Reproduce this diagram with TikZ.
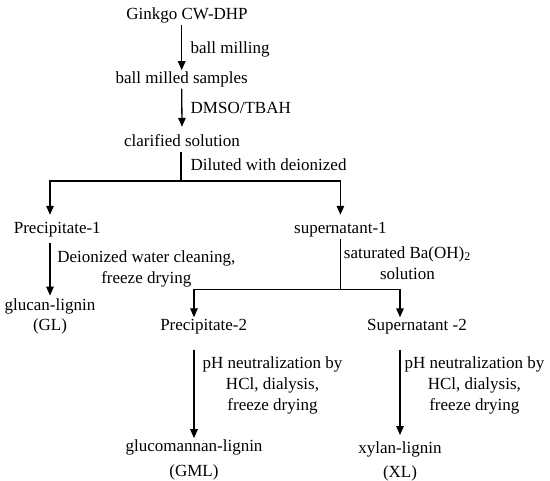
\documentclass[tikz,border=0pt]{standalone}
\usepackage{fontspec}
\setmainfont{Liberation Serif}
\usetikzlibrary{arrows.meta}
\begin{document}
\begin{tikzpicture}[
    x=1pt, y=-1pt,
    stage/.style={inner sep=1pt, text height=12pt, text depth=4pt, font=\fontsize{17}{21}\selectfont},
    product/.style={inner sep=1pt, align=center, font=\fontsize{17}{25}\selectfont},
    note/.style={inner sep=0pt, align=center, font=\fontsize{17}{21}\selectfont},
    flow/.style={line width=1.3pt, -{Triangle[length=9pt,width=7.5pt]}},
    link/.style={line width=1.3pt}
]
\useasboundingbox (0,0) rectangle (550,481);
\node[stage] (ginkgo) at (187,15.7) {Ginkgo CW-DHP};
\node[stage] (milled) at (181.7,79.4) {ball milled samples};
\node[stage] (clar) at (182,143) {clarified solution};
\node[stage] (prec1) at (57.3,230) {Precipitate-1};
\node[stage] (super1) at (340.4,230) {supernatant-1};
\node[stage] (prec2) at (203.7,326.5) {Precipitate-2};
\node[stage] (sup2) at (417,326.5) {Supernatant -2};
\node[product, font=\fontsize{17}{20}\selectfont] (gl) at (50,316.5) {glucan-lignin\\(GL)};
\node[product] (gml) at (194,459.6) {glucomannan-lignin\\(GML)};
\node[product, font=\fontsize{17}{24}\selectfont] (xl) at (400,461) {xylan-lignin\\(XL)};
\node[note, anchor=west] (milling) at (190.5,49.4) {ball milling};
\node[note, anchor=west] (dmso) at (190.5,107.6) {DMSO/TBAH};
\node[note, anchor=west] (dilute) at (190.5,164.8) {Diluted with deionized};
\node[note] (wash) at (146.4,269.4) {Deionized water cleaning,\\freeze drying};
\node[note] (baoh) at (407.4,262.8) {saturated Ba(OH)\textsubscript{2}\\solution};
\node[note] (neutl) at (272.5,385.5) {pH neutralization by\\HCl, dialysis,\\freeze drying};
\node[note] (neutr) at (474.4,385.5) {pH neutralization by\\HCl, dialysis,\\freeze drying};
\coordinate (fork1) at (181,181);
\coordinate (fork2) at (340.4,289.3);
\draw[flow] (ginkgo.south -| milled) -- (milled.north);
\draw[flow] (milled.south) -- ([yshift=7pt]clar.north);
\draw[link] (clar.south -| fork1) -- (fork1);
\draw[flow] (fork1) -| ([yshift=6pt]prec1.north -| gl.north);
\draw[flow] (fork1) -| ([yshift=6pt]super1.north);
\draw[flow] ([yshift=-4pt]prec1.south -| gl.north) -- ([yshift=2pt]gl.north);
\draw[link] (super1.south) -- (fork2);
\draw[flow] (fork2) -| (prec2.north -| gml.north);
\draw[flow] (fork2) -| (sup2.north -| xl.north);
\draw[flow] ([yshift=-14pt]prec2.south -| gml.north) -- (gml.north);
\draw[flow] ([yshift=-14pt]sup2.south -| xl.north) -- ([yshift=5pt]xl.north);
\end{tikzpicture}
\end{document}
